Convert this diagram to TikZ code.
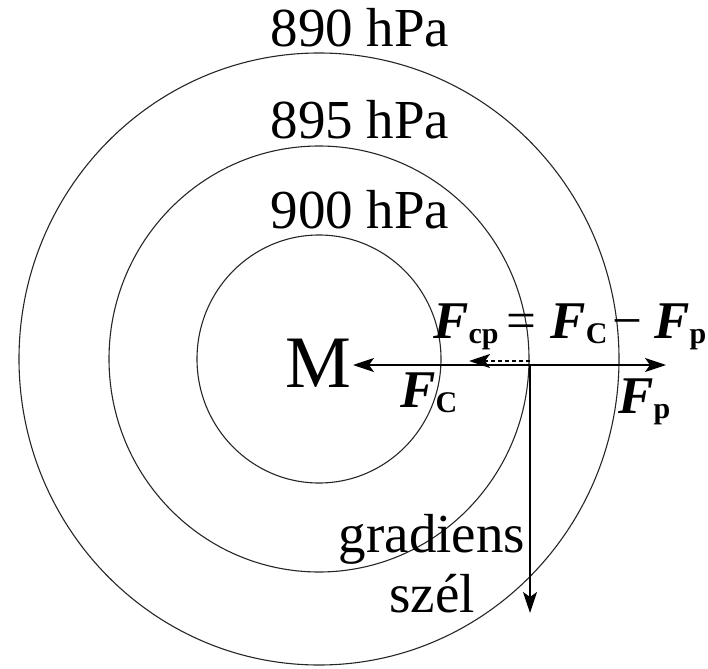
\documentclass[tikz,border=0pt]{standalone}
\usepackage{fontspec}
\setmainfont{Liberation Serif}
\usetikzlibrary{arrows.meta}
\newcommand{\Fbi}{{\fontsize{53}{53}\selectfont\bfseries\itshape F}}
\newcommand{\Sbi}[1]{\raisebox{-5pt}{\fontsize{30}{30}\selectfont\bfseries #1}}
\begin{document}
\begin{tikzpicture}[x=1pt,y=-1pt,
  ring/.style={draw=black!85,line width=1.1pt},
  arr/.style={line width=1.7pt,-{Stealth[length=21pt,width=14pt,inset=5pt]}},
  lbl/.style={inner sep=0pt,font=\fontsize{55}{55}\selectfont}]
\useasboundingbox (0,0) rectangle (708,668);
\coordinate (O) at (319,359);
\draw[ring] (O) ellipse [x radius=122, y radius=124];
\draw[ring] (O) ellipse [x radius=210, y radius=213];
\draw[ring] (O) ellipse [x radius=300, y radius=306];
\node[lbl,anchor=base] (p890) at (360,47) {890 hPa};
\node[lbl,anchor=base] (p895) at (360,139) {895 hPa};
\node[lbl,anchor=base] (p900) at (360,228) {900 hPa};
\node[inner sep=0pt,anchor=base,font=\fontsize{74}{74}\selectfont] (M) at (318.5,387) {M};
\coordinate (J) at (530,365);
\coordinate (tipC) at (353,365);
\coordinate (tipP) at (666,365);
\coordinate (tipG) at (530,613);
\coordinate (Jd) at (530,361);
\coordinate (tipCP) at (469,361);
\draw[arr] (J) -- (tipC);
\draw[arr] (J) -- (tipP);
\draw[arr] (J) -- (tipG);
\draw[line width=2pt,dash pattern=on 4pt off 3pt,-{Stealth[length=21pt,width=14pt,inset=5pt]}] (Jd) -- (tipCP);
\node[inner sep=0pt,anchor=base west] (fcp) at (433,338) {\Fbi\Sbi{cp}\hspace{8pt}{\fontsize{53}{53}\selectfont =}\hspace{14pt}\Fbi\Sbi{C}\hspace{5pt}{\fontsize{53}{53}\selectfont −}\hspace{12pt}\Fbi\Sbi{p}};
\node[inner sep=0pt,anchor=base west] (fc) at (400,407) {\Fbi\Sbi{C}};
\node[inner sep=0pt,anchor=base west] (fp) at (618,413) {\Fbi\Sbi{p}};
\node[inner sep=0pt,anchor=base,font=\fontsize{55}{55}\selectfont] (g1) at (432,552) {gradiens};
\node[inner sep=0pt,anchor=base,font=\fontsize{55}{55}\selectfont] (g2) at (432,612) {szél};
\end{tikzpicture}
\end{document}
